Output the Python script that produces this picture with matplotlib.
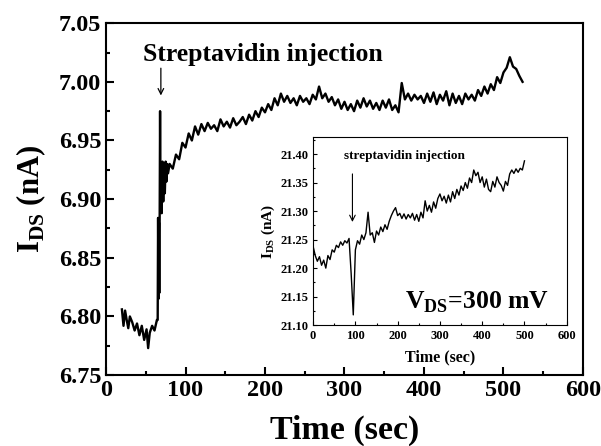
import matplotlib
matplotlib.use("Agg")
import matplotlib.pyplot as plt
from matplotlib.ticker import MultipleLocator

plt.rcParams['font.family'] = ['Liberation Serif', 'DejaVu Serif']
plt.rcParams['font.weight'] = 'bold'
plt.rcParams['mathtext.fontset'] = 'custom'
plt.rcParams['mathtext.rm'] = 'Liberation Serif:bold'
plt.rcParams['mathtext.bf'] = 'Liberation Serif:bold'

# main trace, I_DS (nA) vs time (sec)
main_t = [20, 22, 24, 26, 28, 30, 33, 36, 39, 42,
          45, 48, 51, 53, 55, 58, 61, 64,
          65, 65.5, 66, 66.5, 67, 67.5, 68, 68.5, 69, 70,
          71, 72, 73, 74, 75, 76, 77, 78,
          80, 84, 88, 92, 96, 100, 104, 108, 112, 116,
          120, 124, 128, 132, 136, 140, 144, 148, 152, 156,
          160, 164, 168, 172, 176, 180, 184, 188, 192, 196,
          200, 204, 208, 212, 216, 220, 224, 228, 232, 236,
          240, 244, 248, 252, 256, 260, 264, 268, 272, 276,
          280, 284, 288, 292, 296, 300, 304, 308, 312, 316,
          320, 324, 328, 332, 336, 340, 344, 348, 352, 356,
          360, 364, 368, 372, 376, 380, 384, 388, 392, 396,
          400, 404, 408, 412, 416, 420, 424, 428, 432, 436,
          440, 444, 448, 452, 456, 460, 464, 468, 472, 476,
          480, 484, 488, 492, 496, 500, 504, 508, 512, 516,
          520, 524]
main_i = [6.806, 6.792, 6.805, 6.797, 6.790, 6.800, 6.795, 6.788, 6.794, 6.784,
          6.792, 6.780, 6.789, 6.773, 6.786, 6.792, 6.788, 6.797,
          6.797, 6.884, 6.815, 6.880, 6.820, 6.885, 6.975, 6.893, 6.930, 6.888,
          6.932, 6.898, 6.930, 6.905, 6.932, 6.915, 6.930, 6.922,
          6.930, 6.926, 6.938, 6.934, 6.948, 6.944, 6.956, 6.950, 6.962, 6.955,
          6.964, 6.958, 6.965, 6.960, 6.963, 6.958, 6.968, 6.962, 6.966, 6.961,
          6.969, 6.963, 6.966, 6.970, 6.964, 6.972, 6.967, 6.975, 6.970, 6.978,
          6.974, 6.981, 6.976, 6.986, 6.980, 6.990, 6.983, 6.988, 6.982, 6.986,
          6.980, 6.988, 6.983, 6.986, 6.981, 6.989, 6.985, 6.996, 6.986, 6.990,
          6.983, 6.987, 6.980, 6.985, 6.977, 6.983, 6.976, 6.981, 6.975, 6.984,
          6.978, 6.986, 6.979, 6.984, 6.977, 6.982, 6.976, 6.984, 6.978, 6.985,
          6.976, 6.980, 6.974, 6.999, 6.985, 6.990, 6.984, 6.989, 6.985, 6.988,
          6.982, 6.990, 6.983, 6.991, 6.981, 6.989, 6.984, 6.992, 6.980, 6.990,
          6.982, 6.988, 6.981, 6.990, 6.985, 6.989, 6.984, 6.993, 6.988, 6.996,
          6.990, 6.998, 6.993, 7.004, 6.999, 7.008, 7.012, 7.021, 7.013, 7.011,
          7.005, 7.000]

# inset trace
ins_t = [0, 5, 10, 15, 20, 25, 30, 35, 40, 45,
         50, 55, 60, 65, 70, 75, 80, 85, 90, 95,
         100, 105, 110, 115, 120, 125, 130, 135, 140, 145,
         150, 155, 160, 165, 170, 175, 180, 185, 190, 195,
         200, 205, 210, 215, 220, 225, 230, 235, 240, 245,
         250, 255, 260, 265, 270, 275, 280, 285, 290, 295,
         300, 305, 310, 315, 320, 325, 330, 335, 340, 345,
         350, 355, 360, 365, 370, 375, 380, 385, 390, 395,
         400, 405, 410, 415, 420, 425, 430, 435, 440, 445,
         450, 455, 460, 465, 470, 475, 480, 485, 490, 495,
         500]
ins_i = [21.238, 21.222, 21.212, 21.220, 21.205, 21.214, 21.200, 21.222, 21.215, 21.232,
         21.228, 21.240, 21.236, 21.246, 21.240, 21.248, 21.244, 21.252, 21.190, 21.118,
         21.232, 21.248, 21.242, 21.258, 21.250, 21.262, 21.298, 21.258, 21.262, 21.245,
         21.265, 21.258, 21.272, 21.264, 21.276, 21.268, 21.282, 21.292, 21.300, 21.306,
         21.292, 21.296, 21.287, 21.295, 21.286, 21.294, 21.288, 21.296, 21.284, 21.294,
         21.282, 21.298, 21.288, 21.318, 21.300, 21.310, 21.298, 21.316, 21.305, 21.322,
         21.330, 21.318, 21.326, 21.314, 21.328, 21.316, 21.334, 21.322, 21.338, 21.328,
         21.344, 21.336, 21.350, 21.340, 21.358, 21.350, 21.372, 21.362, 21.368, 21.350,
         21.360, 21.342, 21.356, 21.338, 21.334, 21.352, 21.342, 21.360, 21.350, 21.345,
         21.335, 21.352, 21.345, 21.365, 21.372, 21.366, 21.374, 21.368, 21.375, 21.372,
         21.388]

fig = plt.figure(figsize=(6.01, 4.46), dpi=100)
ax = fig.add_axes([0.1764, 0.159, 0.7936, 0.789])
ax.plot(main_t, main_i, color='black', lw=1.7)
ax.set_xlim(0, 600)
ax.set_ylim(6.75, 7.05)
ax.xaxis.set_major_locator(MultipleLocator(100))
ax.xaxis.set_minor_locator(MultipleLocator(50))
ax.yaxis.set_major_locator(MultipleLocator(0.05))
ax.yaxis.set_minor_locator(MultipleLocator(0.025))
ax.tick_params(which='both', direction='in', top=False, right=False, width=1.5, labelsize=17.5)
ax.tick_params(which='major', length=6)
ax.tick_params(which='minor', length=3)
ax.set_yticks([6.75, 6.80, 6.85, 6.90, 6.95, 7.00, 7.05])
ax.set_yticklabels(['6.75', '6.80', '6.85', '6.90', '6.95', '7.00', '7.05'])
for s in ax.spines.values():
    s.set_linewidth(1.5)
ax.set_xlabel('Time (sec)', fontsize=24.5, fontweight='bold', labelpad=10)
ax.set_ylabel(r'I$_{\mathrm{DS}}$ (nA)', fontsize=22, fontweight='bold', labelpad=8)
ax.annotate('', xy=(69, 6.986), xytext=(69, 7.014),
            arrowprops=dict(arrowstyle='->', color='black', lw=0.9))
ax.text(197, 7.0236, 'Streptavidin injection', fontsize=18.5, fontweight='bold',
        ha='center', va='center')

# inset
axi = fig.add_axes([0.521, 0.271, 0.422, 0.422])
axi.plot(ins_t, ins_i, color='black', lw=1.0)
axi.set_xlim(0, 600)
axi.set_ylim(21.10, 21.43)
axi.xaxis.set_major_locator(MultipleLocator(100))
axi.xaxis.set_minor_locator(MultipleLocator(50))
axi.yaxis.set_minor_locator(MultipleLocator(0.025))
axi.tick_params(which='both', direction='in', top=False, right=False, width=0.8, labelsize=9)
axi.tick_params(which='major', length=3)
axi.tick_params(which='minor', length=1.5)
axi.set_yticks([21.10, 21.15, 21.20, 21.25, 21.30, 21.35, 21.40])
axi.set_yticklabels(['21.10', '21.15', '21.20', '21.25', '21.30', '21.35', '21.40'])
for s in axi.spines.values():
    s.set_linewidth(0.8)
axi.set_xlabel('Time (sec)', fontsize=11.5, fontweight='bold', labelpad=5)
axi.set_ylabel(r'I$_{\mathrm{DS}}$ (nA)', fontsize=11, fontweight='bold', labelpad=2)
axi.annotate('', xy=(93, 21.276), xytext=(93, 21.37),
             arrowprops=dict(arrowstyle='->', color='black', lw=0.8))
axi.text(217, 21.396, 'streptavidin injection', fontsize=9.5, fontweight='bold',
         ha='center', va='center')
axi.text(0.646, 0.122, r'V$_{\mathrm{DS}}$=300 mV', transform=axi.transAxes,
         fontsize=18.5, fontweight='bold', ha='center', va='center')

fig.savefig('out.png', dpi=100)
